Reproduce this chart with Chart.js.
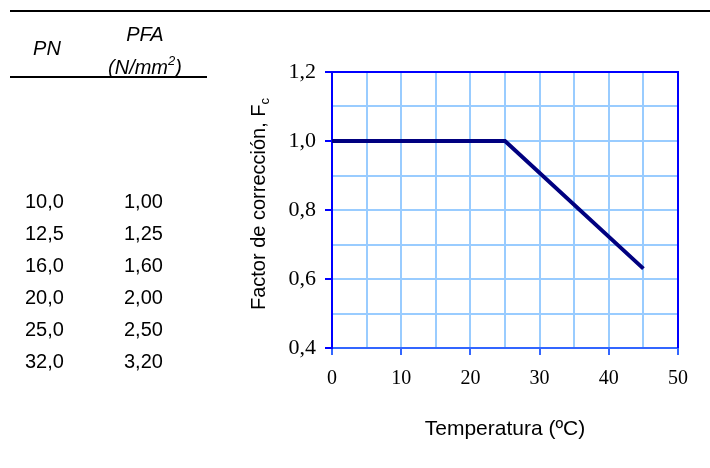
<!DOCTYPE html>
<html>
<head>
<meta charset="utf-8">
<script src="https://cdn.jsdelivr.net/npm/chart.js@4.4.0/dist/chart.umd.min.js"></script>
<style>
  html, body { margin: 0; padding: 0; background: #fff; }
  #wrap { position: relative; width: 710px; height: 468px; overflow: hidden; }
  #chart { position: absolute; left: 0; top: 0; }
  .rule { position: absolute; background: #000; height: 2px; }
  .txt { position: absolute; font: 20px 'Liberation Sans', Arial, sans-serif; line-height: 20px; color: #000; white-space: nowrap; }
  .hd { font-style: italic; text-align: center; width: 100px; }
  sup { font-size: 13px; line-height: 0; position: relative; top: -1px; }
</style>
</head>
<body>
<div id="wrap">
  <canvas id="chart" width="710" height="468"></canvas>
  <div class="rule" style="left:10px; top:10px; width:700px;"></div>
  <div class="rule" style="left:10px; top:76px; width:197px;"></div>
  <div class="txt hd" style="left:-3px; top:38px;">PN</div>
  <div class="txt hd" style="left:95px; top:24px;">PFA</div>
  <div class="txt hd" style="left:95px; top:57px;">(N/mm<sup>2</sup>)</div>
</div>
<script>
// tabla PN / PFA
const pnValues = ['10,0', '12,5', '16,0', '20,0', '25,0', '32,0'];
const pfaValues = ['1,00', '1,25', '1,60', '2,00', '2,50', '3,20'];

// curva del factor de corrección
const tempC = [0, 25, 45];
const factorFc = [1.0, 1.0, 0.63];

const wrap = document.getElementById('wrap');
pnValues.forEach((pn, i) => {
    const top = 191 + i * 32;
    const a = document.createElement('div');
    a.className = 'txt';
    a.style.left = '25px';
    a.style.top = top + 'px';
    a.textContent = pn;
    wrap.appendChild(a);
    const b = document.createElement('div');
    b.className = 'txt';
    b.style.left = '124px';
    b.style.top = top + 'px';
    b.textContent = pfaValues[i];
    wrap.appendChild(b);
});

const isMajorY = v => Math.abs(v * 5 - Math.round(v * 5)) < 1e-6;
const isMajorX = v => Math.abs(v / 10 - Math.round(v / 10)) < 1e-6;

// borde superior y derecho del área de trazado + título del eje Y con subíndice
const framePlugin = {
    id: 'frame',
    afterDraw(chart) {
        const { ctx, chartArea: a } = chart;
        ctx.save();
        ctx.strokeStyle = '#0000ff';
        ctx.lineWidth = 2;
        ctx.beginPath();
        ctx.moveTo(a.left, a.top);
        ctx.lineTo(a.right, a.top);
        ctx.lineTo(a.right, a.bottom);
        ctx.stroke();

        const main = 'Factor de corrección, F';
        ctx.translate(265, 204);
        ctx.rotate(-Math.PI / 2);
        ctx.fillStyle = '#000';
        ctx.textBaseline = 'alphabetic';
        ctx.font = "20px 'Liberation Sans'";
        const w = ctx.measureText(main).width;
        ctx.font = "13px 'Liberation Sans'";
        const ws = ctx.measureText('c').width;
        const x0 = -(w + ws) / 2;
        ctx.font = "20px 'Liberation Sans'";
        ctx.textAlign = 'left';
        ctx.fillText(main, x0, 0);
        ctx.font = "13px 'Liberation Sans'";
        ctx.fillText('c', x0 + w, 4);
        ctx.restore();
    }
};

new Chart(document.getElementById('chart').getContext('2d'), {
    type: 'line',
    data: {
        datasets: [{
            data: tempC.map((t, i) => ({ x: t, y: factorFc[i] })),
            borderColor: '#000080',
            borderWidth: 4,
            pointRadius: 0,
            tension: 0,
            fill: false,
        }],
    },
    options: {
        responsive: false,
        animation: false,
        layout: { padding: { left: 240, top: 72, right: 32, bottom: 0 } },
        plugins: { legend: { display: false }, tooltip: { enabled: false } },
        scales: {
            x: {
                type: 'linear',
                min: 0,
                max: 50,
                afterFit: s => { s.height = 120; },
                border: { color: '#3366ff', width: 2 },
                grid: {
                    color: '#99ccff',
                    lineWidth: 2,
                    tickLength: 7,
                    tickWidth: 2,
                    tickColor: c => (c.tick && isMajorX(c.tick.value) ? '#3366ff' : 'rgba(0,0,0,0)'),
                },
                ticks: {
                    stepSize: 5,
                    autoSkip: false,
                    maxRotation: 0,
                    padding: 12,
                    color: '#000',
                    font: { family: "'Liberation Serif'", size: 20 },
                    callback: v => (isMajorX(v) ? String(Math.round(v)) : ''),
                },
                title: {
                    display: true,
                    text: 'Temperatura (ºC)',
                    color: '#000',
                    font: { family: "'Liberation Sans'", size: 21 },
                    padding: { top: 0, bottom: 26 },
                },
            },
            y: {
                min: 0.4,
                max: 1.2,
                afterFit: s => { s.width = 92; },
                border: { color: '#0000ff', width: 2 },
                grid: {
                    color: '#99ccff',
                    lineWidth: 2,
                    tickLength: 7,
                    tickWidth: 2,
                    tickColor: c => (c.tick && isMajorY(c.tick.value) ? '#0000ff' : 'rgba(0,0,0,0)'),
                },
                ticks: {
                    stepSize: 0.1,
                    autoSkip: false,
                    padding: 9,
                    color: '#000',
                    font: { family: "'Liberation Serif'", size: 22 },
                    callback: v => (isMajorY(v) ? v.toFixed(1).replace('.', ',') : ''),
                },
            },
        },
    },
    plugins: [framePlugin],
});
</script>
</body>
</html>
